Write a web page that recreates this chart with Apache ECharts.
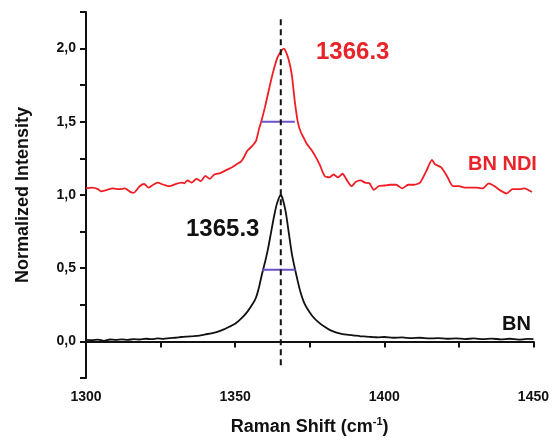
<!DOCTYPE html>
<html>
<head>
<meta charset="utf-8">
<script src="https://cdn.jsdelivr.net/npm/echarts@6/dist/echarts.min.js"></script>
<style>
  html, body { margin: 0; padding: 0; background: #fff; }
  #chart { width: 552px; height: 441px; }
</style>
</head>
<body>
<div id="chart"></div>
<script>
// BN reference spectrum (black)
const bnX = [1300, 1302, 1304, 1306, 1308, 1310, 1312, 1314, 1316, 1318, 1320, 1322, 1324, 1326, 1328,
  1330, 1332, 1334, 1336, 1338, 1340, 1342, 1344, 1346, 1348, 1350, 1352, 1354, 1356, 1357, 1358,
  1359, 1360, 1361, 1362, 1363, 1364, 1365.3, 1366, 1367, 1368, 1369, 1370, 1371, 1372, 1373, 1374,
  1376, 1378, 1380, 1382, 1384, 1386, 1388, 1390, 1392, 1394, 1396, 1398, 1400, 1403, 1406, 1409,
  1412, 1415, 1418, 1421, 1424, 1427, 1430, 1433, 1436, 1439, 1442, 1445, 1448, 1450];
const bnY = [0.01, 0.008, 0.012, 0.004, 0.013, 0.01, 0.014, 0.011, 0.015, 0.013, 0.018, 0.015, 0.02, 0.017, 0.022,
  0.025, 0.03, 0.033, 0.036, 0.04, 0.048, 0.055, 0.065, 0.08, 0.1, 0.12, 0.155, 0.2, 0.26, 0.3, 0.37,
  0.46, 0.54, 0.63, 0.74, 0.85, 0.94, 1.0, 0.97, 0.88, 0.74, 0.6, 0.5, 0.41, 0.33, 0.27, 0.23,
  0.17, 0.13, 0.1, 0.075, 0.06, 0.05, 0.045, 0.04, 0.035, 0.033, 0.03, 0.028, 0.03, 0.025, 0.027, 0.022,
  0.025, 0.02, 0.022, 0.018, 0.021, 0.016, 0.02, 0.015, 0.019, 0.014, 0.018, 0.012, 0.017, 0.015];

// BN NDI spectrum (red), offset by +1
const ndiX = [1300, 1302, 1304, 1305, 1307, 1309, 1311, 1313, 1315, 1316, 1318, 1319.5, 1321, 1322.5, 1324,
  1326, 1328, 1330, 1332, 1333, 1334, 1335.5, 1337, 1338.5, 1340, 1341.5, 1343, 1345, 1347, 1349,
  1350.5, 1352, 1353, 1354, 1355.5, 1357, 1358, 1359, 1360, 1361, 1362, 1363, 1364, 1365, 1366.3,
  1367, 1368, 1369, 1370, 1371, 1372, 1373, 1374, 1375.5, 1377, 1378.5, 1380, 1381.5, 1383, 1384.5,
  1386, 1387.5, 1389, 1390.5, 1392, 1393.5, 1395, 1396.5, 1398, 1400, 1402, 1404, 1406, 1408, 1410,
  1412, 1414, 1416, 1417, 1419, 1421, 1423, 1425, 1427, 1429, 1431, 1433, 1435, 1437, 1439, 1441,
  1443, 1445, 1447, 1449.5];
const ndiY = [1.045, 1.05, 1.04, 1.025, 1.035, 1.045, 1.04, 1.045, 1.02, 1.015, 1.06, 1.075, 1.05, 1.07, 1.085,
  1.07, 1.06, 1.075, 1.085, 1.08, 1.1, 1.085, 1.11, 1.095, 1.13, 1.11, 1.14, 1.15, 1.17, 1.19,
  1.21, 1.23, 1.26, 1.3, 1.33, 1.37, 1.45, 1.52, 1.6, 1.69, 1.78, 1.86, 1.93, 1.97, 2.0,
  1.98, 1.92, 1.82, 1.64, 1.5, 1.43, 1.39, 1.35, 1.31, 1.26, 1.2, 1.13, 1.12, 1.14, 1.12,
  1.145, 1.1, 1.06, 1.09, 1.1, 1.085, 1.08, 1.035, 1.06, 1.065, 1.07, 1.07, 1.045, 1.07, 1.07,
  1.085, 1.16, 1.24, 1.21, 1.19, 1.13, 1.06, 1.06, 1.05, 1.05, 1.05, 1.045, 1.08, 1.06, 1.03, 1.01,
  1.04, 1.04, 1.045, 1.02];

// peak position and FWHM bars
const peakLineX = [1365.3, 1365.3];
const peakLineY = [2.2, -0.18];
const fwhmBnX = [1359, 1370.3];
const fwhmBnY = [0.49, 0.49];
const fwhmNdiX = [1358.7, 1370];
const fwhmNdiY = [1.5, 1.5];

const pairs = (xs, ys) => xs.map((x, i) => [x, ys[i]]);

const chart = echarts.init(document.getElementById('chart'));
const font = 'Liberation Sans, Arial, sans-serif';

chart.setOption({
  animation: false,
  grid: { left: 86, right: 16, top: 12, bottom: 63 },
  xAxis: {
    type: 'value',
    min: 1300,
    max: 1450,
    interval: 25,
    name: '{b|Raman Shift (cm}{s|-1}{b|)}',
    nameLocation: 'middle',
    nameGap: 38,
    nameTextStyle: {
      rich: {
        b: { fontFamily: font, fontWeight: 'bold', fontSize: 18, color: '#111', verticalAlign: 'bottom' },
        s: { fontFamily: font, fontWeight: 'bold', fontSize: 11, color: '#111',
             verticalAlign: 'bottom', padding: [0, 0, 9, 0] }
      }
    },
    axisLine: { lineStyle: { color: '#111', width: 2 } },
    axisTick: { inside: false, length: 6, lineStyle: { color: '#111', width: 2 } },
    axisLabel: {
      margin: 12,
      fontFamily: font, fontWeight: 'bold', fontSize: 14, color: '#111',
      formatter: v => (v % 50 === 0 ? String(v) : '')
    },
    splitLine: { show: false }
  },
  yAxis: {
    type: 'value',
    min: -0.25,
    max: 2.25,
    interval: 0.25,
    name: 'Normalized Intensity',
    nameLocation: 'middle',
    nameGap: 54,
    nameTextStyle: { fontFamily: font, fontWeight: 'bold', fontSize: 18, color: '#111' },
    axisLine: { show: true, lineStyle: { color: '#111', width: 2 } },
    axisTick: { show: true, inside: false, length: 6, lineStyle: { color: '#111', width: 2 } },
    axisLabel: {
      margin: 10,
      fontFamily: font, fontWeight: 'bold', fontSize: 14, color: '#111',
      formatter: v => {
        const h = v * 2;
        if (Math.abs(h - Math.round(h)) > 1e-6) return '';
        return v.toFixed(1).replace('.', ',');
      }
    },
    splitLine: { show: false }
  },
  series: [
    {
      name: 'BN', type: 'line', data: pairs(bnX, bnY), showSymbol: false, smooth: 0.2,
      lineStyle: { color: '#111', width: 1.8 }, z: 2
    },
    {
      name: 'BN NDI', type: 'line', data: pairs(ndiX, ndiY), showSymbol: false, smooth: 0.2,
      lineStyle: { color: '#f01e24', width: 1.8 }, z: 2
    },
    {
      name: 'FWHM BN', type: 'line', data: pairs(fwhmBnX, fwhmBnY), showSymbol: false,
      lineStyle: { color: '#6b52c6', width: 2 }, z: 3
    },
    {
      name: 'FWHM BN NDI', type: 'line', data: pairs(fwhmNdiX, fwhmNdiY), showSymbol: false,
      lineStyle: { color: '#6b52c6', width: 2 }, z: 3
    },
    {
      name: 'peak', type: 'line', data: pairs(peakLineX, peakLineY), showSymbol: false,
      lineStyle: { color: '#111', width: 2, type: [6, 4] }, z: 4
    }
  ],
  graphic: [
    { type: 'text', left: 316, top: 40,
      style: { text: '1366.3', fill: '#e8232a', font: 'bold 24px ' + font } },
    { type: 'text', left: 186, top: 217,
      style: { text: '1365.3', fill: '#111', font: 'bold 24px ' + font } },
    { type: 'text', left: 468, top: 154,
      style: { text: 'BN NDI', fill: '#e8232a', font: 'bold 20px ' + font } },
    { type: 'text', left: 502, top: 314,
      style: { text: 'BN', fill: '#111', font: 'bold 20px ' + font } }
  ]
});
</script>
</body>
</html>
